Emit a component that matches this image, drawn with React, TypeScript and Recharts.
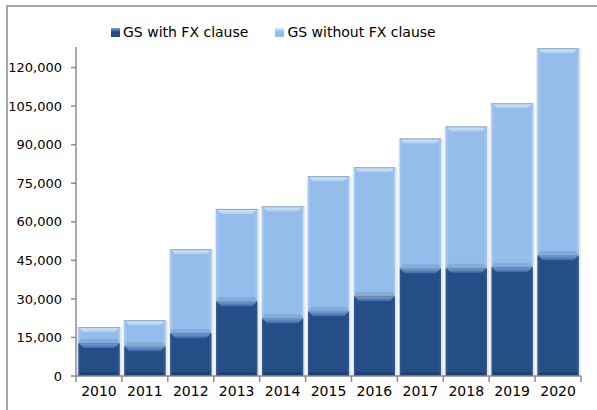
import { Bar, BarChart, XAxis, YAxis } from 'recharts'

const years = ['2010', '2011', '2012', '2013', '2014', '2015', '2016', '2017', '2018', '2019', '2020']
const withFx = [12800, 11600, 16700, 29100, 22500, 25200, 31100, 41900, 42100, 42400, 47000]
const withoutFx = [6200, 10100, 32600, 35900, 43500, 52500, 50100, 50500, 55000, 63700, 80500]
const yTicks = [0, 15000, 30000, 45000, 60000, 75000, 90000, 105000, 120000]
const seriesNames = ['GS with FX clause', 'GS without FX clause']

const data = years.map((year, i) => ({ year, withFx: withFx[i], withoutFx: withoutFx[i] }))

const FONT = '"DejaVu Sans", Verdana, sans-serif'
const AXIS = '#8c8c8c'
const FRAME = '#a6a6a6'
const PLOT_LEFT = 76
const PLOT_RIGHT = 581
const BAND = (PLOT_RIGHT - PLOT_LEFT) / years.length

const tones = {
  dark: { id: 'dk', base: '#244e85', hi: '#7aa5dc', mid: '#3b69a9', side: '#2a5690', low: '#1e4173', line: '#6f8096' },
  light: { id: 'lt', base: '#95bdec', hi: '#d9ecfc', mid: '#a9cdf3', side: '#a0c5ef', low: '#82aadb', line: '#8e9fb4' },
}

function bevelShape(tone: typeof tones.dark) {
  return (props: any) => {
    const { x, y, width: w, height: h } = props
    if (!h || h <= 0) return <g />
    const t = Math.min(5, h / 3)
    const s = 2
    const lb = Math.min(4, h / 4)
    return (
      <g>
        <rect x={x - 1.5} y={y} width={w + 4} height={h} fill="#000" opacity={0.09} />
        <rect x={x} y={y} width={w} height={h} fill={tone.base} />
        <polygon points={`${x},${y + h} ${x + s},${y + h - lb} ${x + w - s},${y + h - lb} ${x + w},${y + h}`} fill={tone.low} />
        <polygon points={`${x},${y} ${x + s},${y + t} ${x + s},${y + h - lb} ${x},${y + h}`} fill={tone.side} />
        <polygon points={`${x + w},${y} ${x + w - s},${y + t} ${x + w - s},${y + h - lb} ${x + w},${y + h}`} fill={tone.side} />
        <polygon points={`${x},${y} ${x + w},${y} ${x + w - t},${y + t} ${x + t},${y + t}`} fill={`url(#top-${tone.id})`} />
        <line x1={x} x2={x + w} y1={y + 0.5} y2={y + 0.5} stroke={tone.line} strokeWidth={1} />
      </g>
    )
  }
}

function YearTick(props: any) {
  const { x, y, payload, index } = props
  const left = x - BAND / 2
  return (
    <g>
      <line x1={left} x2={left} y1={y - 8} y2={y - 2} stroke={AXIS} strokeWidth={1.5} />
      {index === years.length - 1 && (
        <line x1={left + BAND} x2={left + BAND} y1={y - 8} y2={y - 2} stroke={AXIS} strokeWidth={1.5} />
      )}
      <text x={x} y={y + 12} textAnchor="middle" fontSize={14} fontFamily={FONT} fill="#000">
        {payload.value}
      </text>
    </g>
  )
}

function LegendRow() {
  const colors = [tones.dark, tones.light]
  return (
    <div
      style={{
        position: 'absolute',
        left: 111,
        top: 24,
        display: 'flex',
        gap: 27,
        fontFamily: FONT,
        fontSize: 14,
        color: '#000',
        whiteSpace: 'nowrap',
      }}
    >
      {seriesNames.map((name, i) => (
        <div key={name} style={{ display: 'flex', alignItems: 'center', gap: 3 }}>
          <span
            style={{
              width: 9,
              height: 9,
              background: `linear-gradient(${colors[i].hi}, ${colors[i].base} 45%)`,
              display: 'inline-block',
            }}
          />
          <span>{name}</span>
        </div>
      ))}
    </div>
  )
}

export default function App() {
  return (
    <>
      <style>{'body { margin: 0; }'}</style>
      <div style={{ position: 'relative', width: 597, height: 410, overflow: 'hidden', background: '#fff' }}>
        <LegendRow />
        <div style={{ position: 'absolute', left: 0, top: 0 }}>
          <BarChart
            width={597}
            height={410}
            data={data}
            margin={{ top: 47, right: 597 - PLOT_RIGHT, bottom: 0, left: 0 }}
            barCategoryGap="5.5%"
          >
            <defs>
              {[tones.dark, tones.light].map((tone) => (
                <linearGradient key={tone.id} id={`top-${tone.id}`} x1="0" y1="0" x2="0" y2="1">
                  <stop offset="0%" stopColor={tone.hi} />
                  <stop offset="100%" stopColor={tone.mid} />
                </linearGradient>
              ))}
            </defs>
            <XAxis
              dataKey="year"
              height={34}
              stroke={AXIS}
              strokeWidth={1.5}
              tickLine={false}
              tick={<YearTick />}
              interval={0}
            />
            <YAxis
              width={PLOT_LEFT}
              domain={[0, 128000]}
              ticks={yTicks}
              allowDataOverflow
              stroke={AXIS}
              strokeWidth={1.5}
              tickSize={5}
              tickMargin={9}
              tickFormatter={(v: number) => v.toLocaleString('en-US')}
              tick={{ fontSize: 13, fontFamily: FONT, fill: '#000' }}
            />
            <Bar dataKey="withFx" name={seriesNames[0]} stackId="gs" shape={bevelShape(tones.dark)} isAnimationActive={false} />
            <Bar dataKey="withoutFx" name={seriesNames[1]} stackId="gs" shape={bevelShape(tones.light)} isAnimationActive={false} />
          </BarChart>
        </div>
        <svg
          width={597}
          height={410}
          style={{ position: 'absolute', left: 0, top: 0, zIndex: 5, pointerEvents: 'none' }}
        >
          <line x1={7} x2={7} y1={5} y2={410} stroke={FRAME} strokeWidth={2} />
          <line x1={6} x2={597} y1={6} y2={6} stroke={FRAME} strokeWidth={2} />
        </svg>
      </div>
    </>
  )
}
